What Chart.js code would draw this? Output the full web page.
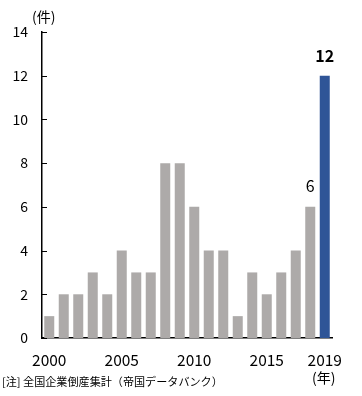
<!DOCTYPE html>
<html><head><meta charset="utf-8">
<script src="https://cdn.jsdelivr.net/npm/chart.js@4/dist/chart.umd.min.js"></script>
<style>html,body{margin:0;padding:0;background:#fff;}#wrap{width:362px;height:396px;position:relative;}</style>
</head><body><div id="wrap"><canvas id="c"></canvas></div>
<script>
const years = ['2000','2001','2002','2003','2004','2005','2006','2007','2008','2009','2010','2011','2012','2013','2014','2015','2016','2017','2018','2019'];
const counts = [1,2,2,3,2,4,3,3,8,8,6,4,4,1,3,2,3,4,6,12];
const shownYears = ['2000','2005','2010','2015','2019'];
const yTicks = [0,2,4,6,8,10,12,14];
const labeledYears = ['2018','2019'];
const yUnit = '(件)';
const xUnit = '(年)';
const note = '[注] 全国企業倒産集計（帝国データバンク）';

const FONT = '"Noto Sans CJK JP", "Noto Sans", sans-serif';
const GRAY = '#ADAAA9', BLUE = '#2F5597';

const extras = {
  id: 'extras',
  afterDraw(chart) {
    const ctx = chart.ctx, y = chart.scales.y, x = chart.scales.x, ca = chart.chartArea;
    ctx.save();
    ctx.strokeStyle = '#000'; ctx.lineWidth = 1;
    yTicks.forEach(v => { const py = Math.round(y.getPixelForValue(v)) + 0.5; ctx.beginPath(); ctx.moveTo(ca.left, py); ctx.lineTo(ca.left + 5, py); ctx.stroke(); });
    const meta = chart.getDatasetMeta(0);
    ctx.textAlign = 'center'; ctx.textBaseline = 'middle';
    labeledYears.forEach(yr => {
      const i = years.indexOf(yr); const el = meta.data[i];
      const last = i === years.length - 1;
      ctx.fillStyle = '#000';
      ctx.font = (last ? 'bold 16px ' : '16px ') + FONT;
      ctx.fillText(String(counts[i]), el.x, el.y - (last ? 20 : 21));
    });
    ctx.fillStyle = '#000';
    ctx.font = '14px ' + FONT;
    ctx.fillText(xUnit, x.getPixelForValue(years.length - 1) - 1, 378);
    ctx.textAlign = 'left';
    ctx.fillText(yUnit, 32, 17);
    ctx.font = '11.1px ' + FONT;
    ctx.fillText(note, 2, 382);
    ctx.restore();
  }
};

new Chart(document.getElementById('c'), {
  type: 'bar',
  data: { labels: years, datasets: [{ data: counts, backgroundColor: years.map((y, i) => i === years.length - 1 ? BLUE : GRAY), categoryPercentage: 1, barPercentage: 0.69 }] },
  options: {
    responsive: true, maintainAspectRatio: false, animation: false,
    layout: { padding: { top: 32, right: 30, left: 0, bottom: 0 } },
    plugins: { legend: { display: false }, tooltip: { enabled: false } },
    scales: {
      x: {
        grid: { display: false, drawTicks: false },
        border: { display: true, color: '#000', width: 1.5 },
        afterFit(s) { s.height = 58; },
        ticks: { autoSkip: false, maxRotation: 0, padding: 13, color: '#000', font: { family: FONT, size: 15.5 },
          callback(v, i) { const l = years[i]; return shownYears.includes(l) ? l : ''; } }
      },
      y: {
        min: 0, max: 14,
        grid: { display: false, drawTicks: false },
        border: { display: true, color: '#000', width: 1.5 },
        afterFit(s) { s.width = 42; },
        afterBuildTicks(s) { s.ticks = yTicks.map(v => ({ value: v })); },
        ticks: { padding: 14, color: '#000', font: { family: FONT, size: 14 } }
      }
    }
  },
  plugins: [extras]
});
</script></body></html>
